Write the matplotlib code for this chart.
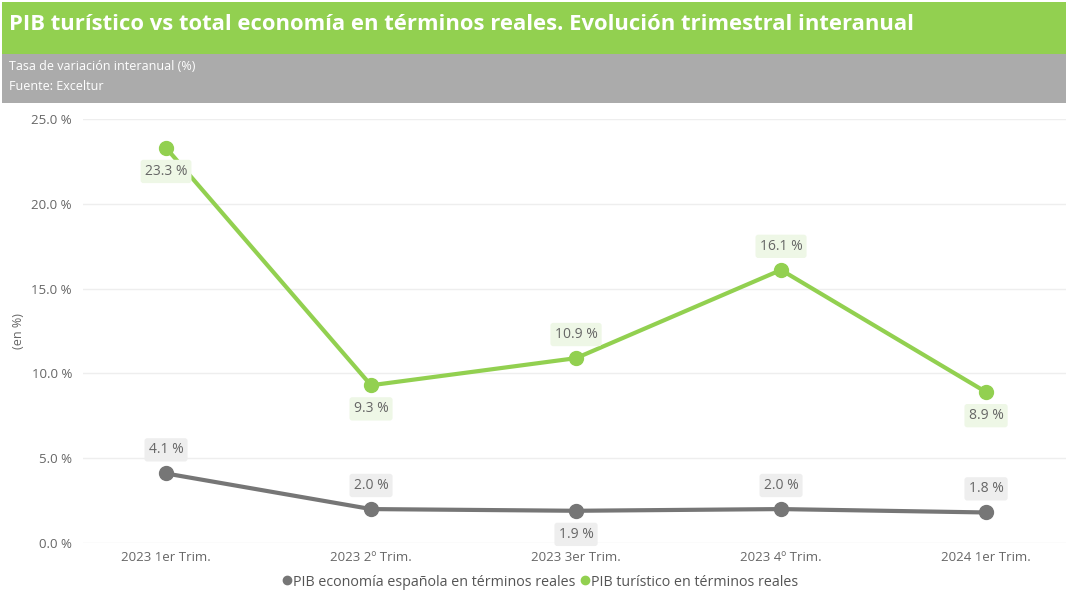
import matplotlib
matplotlib.use("Agg")
import matplotlib.pyplot as plt
from matplotlib.patches import Rectangle
from matplotlib.lines import Line2D

categories = ["2023 1er Trim.", "2023 2º Trim.", "2023 3er Trim.", "2023 4º Trim.", "2024 1er Trim."]
pib_economia = [4.1, 2.0, 1.9, 2.0, 1.8]
pib_turistico = [23.3, 9.3, 10.9, 16.1, 8.9]
yticks = [0, 5, 10, 15, 20, 25]

GREEN = "#92D050"
GREY = "#767676"
TXT = "#666666"

plt.rcParams['font.family'] = ['Open Sans', 'DejaVu Sans']

W, H = 1066, 597
fig = plt.figure(figsize=(W/100, H/100), dpi=100)

# header bands
fig.patches.append(Rectangle((2/W, 1 - 54/H), 1 - 2/W, 52/H, transform=fig.transFigure,
                             facecolor=GREEN, edgecolor='none', zorder=0))
fig.patches.append(Rectangle((2/W, 1 - 103/H), 1 - 2/W, 49/H, transform=fig.transFigure,
                             facecolor="#ABABAB", edgecolor='none', zorder=0))
fig.text(9/W, 1 - 24/H, "PIB turístico vs total economía en términos reales. Evolución trimestral interanual",
         color='white', fontsize=15.8, fontweight='bold', va='center', ha='left')
fig.text(9/W, 1 - 66/H, "Tasa de variación interanual (%)", color='white', fontsize=9, va='center', ha='left')
fig.text(9/W, 1 - 86/H, "Fuente: Exceltur", color='white', fontsize=9, va='center', ha='left')

# axes: y 0 at px 543, 25 at px 119; x from 83 to 1066
left, right = 83, 1066
y0px, y25px = 543, 119
ax = fig.add_axes([left/W, 1 - y0px/H, (right-left)/W, (y0px-y25px)/H])
ax.set_ylim(0, 25)
ax.set_xlim(-0.405, 4.39)
x = list(range(len(categories)))

for s in ax.spines.values():
    s.set_visible(False)
ax.set_yticks(yticks)
ax.set_yticklabels([f"{v:.1f} %" for v in yticks])
ax.grid(axis='y', color='#eeeeee', linewidth=1)
ax.set_axisbelow(True)
ax.tick_params(length=0, labelsize=9.5, colors=TXT)
ax.tick_params(axis='y', pad=8)
ax.tick_params(axis='x', pad=6)
ax.set_xticks(x)
ax.set_xticklabels(categories)
ax.set_ylabel("(en %)", fontsize=9, color=TXT)
ax.yaxis.set_label_coords((25 - left) / (right - left), 0.5)

ax.plot(x, pib_economia, color=GREY, lw=3, marker='o', ms=10, zorder=3, clip_on=False)
ax.plot(x, pib_turistico, color=GREEN, lw=3, marker='o', ms=10, zorder=3, clip_on=False)

econ_pos = ['above', 'above', 'below', 'above', 'above']
tur_pos = ['below', 'below', 'above', 'above', 'below']

def label(xi, yi, pos, bg):
    off = 17 if pos == 'above' else -17
    ax.annotate(f"{yi:.1f} %", (xi, yi), xytext=(0, off), textcoords='offset points',
                ha='center', va='center', fontsize=10, color=TXT, zorder=4,
                bbox=dict(boxstyle='round,pad=0.3,rounding_size=0.2', facecolor=bg, edgecolor='none'))

for xi, yi, p in zip(x, pib_economia, econ_pos):
    label(xi, yi, p, '#eeeeee')
for xi, yi, p in zip(x, pib_turistico, tur_pos):
    label(xi, yi, p, '#eef7e6')

handles = [Line2D([], [], marker='o', color='none', markerfacecolor=GREY, markeredgecolor=GREY, ms=6),
           Line2D([], [], marker='o', color='none', markerfacecolor=GREEN, markeredgecolor=GREEN, ms=6)]
fig.legend(handles, ["PIB economía española en términos reales", "PIB turístico en términos reales"],
           loc='center', bbox_to_anchor=(540/W, 1 - 582/H), ncol=2, frameon=False,
           fontsize=10.3, labelcolor='#555555', handletextpad=0.0, columnspacing=0.3, handlelength=0.8)

fig.savefig("out.png", dpi=100, facecolor='white')
